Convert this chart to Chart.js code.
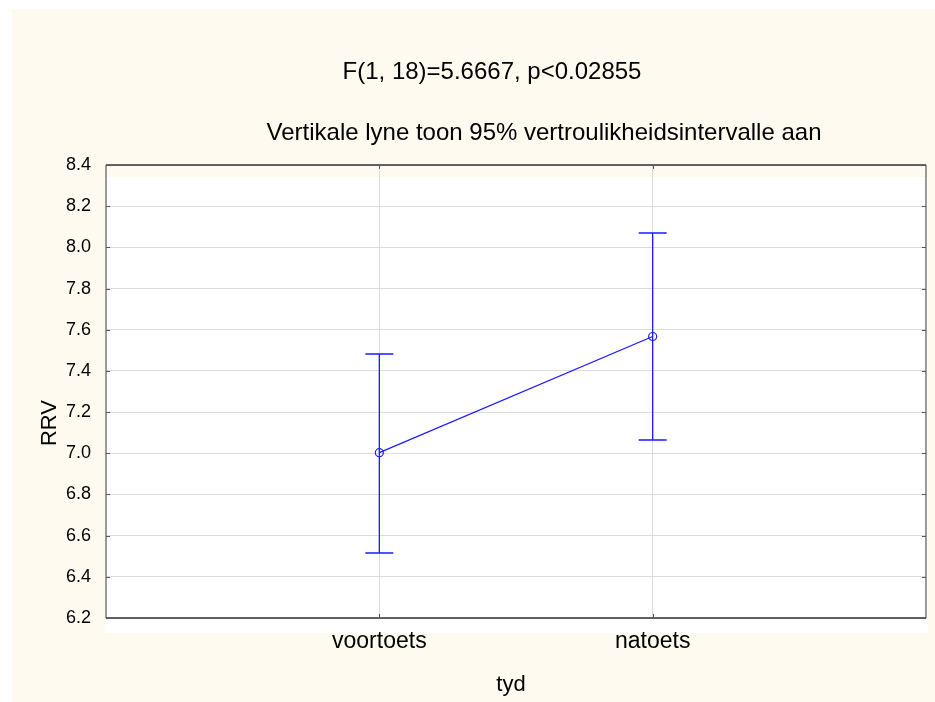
<!DOCTYPE html>
<html><head><meta charset="utf-8">
<script src="https://cdn.jsdelivr.net/npm/chart.js@4"></script>
<style>html,body{margin:0;padding:0;background:#fff;}canvas{display:block;}</style>
</head><body>
<canvas id="c" width="935" height="702"></canvas>
<script>
// ---- data ----
const categories = ['voortoets', 'natoets'];
const means = [7.003, 7.567];
const ciLower = [6.517, 7.066];
const ciUpper = [7.484, 8.070];
const yTicks = [6.2, 6.4, 6.6, 6.8, 7.0, 7.2, 7.4, 7.6, 7.8, 8.0, 8.2, 8.4];
const titleText = 'F(1, 18)=5.6667, p<0.02855';
const subtitleText = 'Vertikale lyne toon 95% vertroulikheidsintervalle aan';
const xAxisTitle = 'tyd';
const yAxisTitle = 'RRV';

const FONT = '"Liberation Sans", Arial, sans-serif';
const BLUE = '#1a1aff';

const decor = {
  id: 'decor',
  beforeDraw(chart) {
    const {ctx, chartArea: a, width, height} = chart;
    ctx.save();
    ctx.fillStyle = '#ffffff';
    ctx.fillRect(0, 0, width, height);
    ctx.fillStyle = '#fffaf0';
    ctx.fillRect(12, 9, width - 12, height - 9);
    ctx.fillStyle = '#ffffff';
    ctx.fillRect(a.left - 1, a.top + 12, a.right - a.left + 3, a.bottom - a.top + 3);
    ctx.fillStyle = '#000';
    ctx.textBaseline = 'alphabetic';
    ctx.textAlign = 'center';
    ctx.font = '24px ' + FONT;
    ctx.fillText(titleText, 492, 79);
    ctx.fillText(subtitleText, 544, 140);
    ctx.font = '22px ' + FONT;
    ctx.fillText(xAxisTitle, (a.left + a.right) / 2 - 5, 691);
    ctx.save();
    ctx.translate(56, 423);
    ctx.rotate(-Math.PI / 2);
    ctx.fillText(yAxisTitle, 0, 0);
    ctx.restore();
    ctx.restore();
  },
  afterDatasetsDraw(chart) {
    const {ctx, scales: {x, y}} = chart;
    ctx.save();
    ctx.setLineDash([]);
    ctx.strokeStyle = BLUE;
    ctx.lineWidth = 1.3;
    categories.forEach((c, i) => {
      const px = x.getPixelForValue(i + 1);
      const lo = Math.round(y.getPixelForValue(ciLower[i]));
      const hi = Math.round(y.getPixelForValue(ciUpper[i]));
      ctx.beginPath();
      ctx.moveTo(px, lo); ctx.lineTo(px, hi);
      ctx.moveTo(px - 14, lo); ctx.lineTo(px + 14, lo);
      ctx.moveTo(px - 14, hi); ctx.lineTo(px + 14, hi);
      ctx.stroke();
    });
    ctx.restore();
  },
  afterDraw(chart) {
    const {ctx, chartArea: a, scales: {x, y}} = chart;
    ctx.save();
    ctx.lineWidth = 1.5;
    ctx.strokeStyle = '#7a7a7a';
    ctx.beginPath();
    ctx.moveTo(a.left, a.top); ctx.lineTo(a.left, a.bottom);
    ctx.moveTo(a.right, a.top); ctx.lineTo(a.right, a.bottom);
    ctx.stroke();
    ctx.strokeStyle = '#333';
    ctx.beginPath();
    ctx.moveTo(a.left, a.top); ctx.lineTo(a.right, a.top);
    ctx.moveTo(a.left, a.bottom); ctx.lineTo(a.right, a.bottom);
    ctx.stroke();
    ctx.lineWidth = 1;
    ctx.strokeStyle = '#555';
    ctx.beginPath();
    yTicks.forEach(v => {
      const py = Math.round(y.getPixelForValue(v)) + 0.5;
      ctx.moveTo(a.left, py); ctx.lineTo(a.left + 4, py);
      ctx.moveTo(a.right - 4, py); ctx.lineTo(a.right, py);
    });
    categories.forEach((c, i) => {
      const px = Math.round(x.getPixelForValue(i + 1)) + 0.5;
      ctx.moveTo(px, a.top); ctx.lineTo(px, a.top + 4);
      ctx.moveTo(px, a.bottom - 4); ctx.lineTo(px, a.bottom);
    });
    ctx.stroke();
    ctx.restore();
  }
};

new Chart(document.getElementById('c'), {
  type: 'line',
  data: {
    datasets: [{
      data: categories.map((c, i) => ({x: i + 1, y: means[i]})),
      borderColor: BLUE,
      borderWidth: 1.2,
      pointRadius: 4,
      pointBorderColor: BLUE,
      pointBackgroundColor: 'rgba(0,0,0,0)',
      pointBorderWidth: 1.2,
      tension: 0,
      fill: false
    }]
  },
  options: {
    responsive: false,
    animation: false,
    devicePixelRatio: 1,
    layout: {padding: {top: 165, right: 9, bottom: 0, left: 0}},
    plugins: {legend: {display: false}, tooltip: {enabled: false}, title: {display: false}},
    scales: {
      x: {
        type: 'linear', min: 0, max: 3,
        afterBuildTicks: s => { s.ticks = categories.map((c, i) => ({value: i + 1})); },
        afterFit: s => { s.height = 84; },
        ticks: {
          autoSkip: false, maxRotation: 0, padding: 10, color: '#000',
          font: {family: FONT, size: 23},
          callback: v => categories[v - 1]
        },
        grid: {color: '#dcdcdc', drawTicks: false},
        border: {display: false}
      },
      y: {
        type: 'linear', min: 6.2, max: 8.4,
        afterBuildTicks: s => { s.ticks = yTicks.map(v => ({value: v})); },
        afterFit: s => { s.width = 106; },
        ticks: {
          padding: 15, color: '#000',
          font: {family: FONT, size: 18},
          callback: v => Number(v).toFixed(1)
        },
        grid: {color: '#dcdcdc', drawTicks: false},
        border: {display: false}
      }
    }
  },
  plugins: [decor]
});
</script>
</body></html>
